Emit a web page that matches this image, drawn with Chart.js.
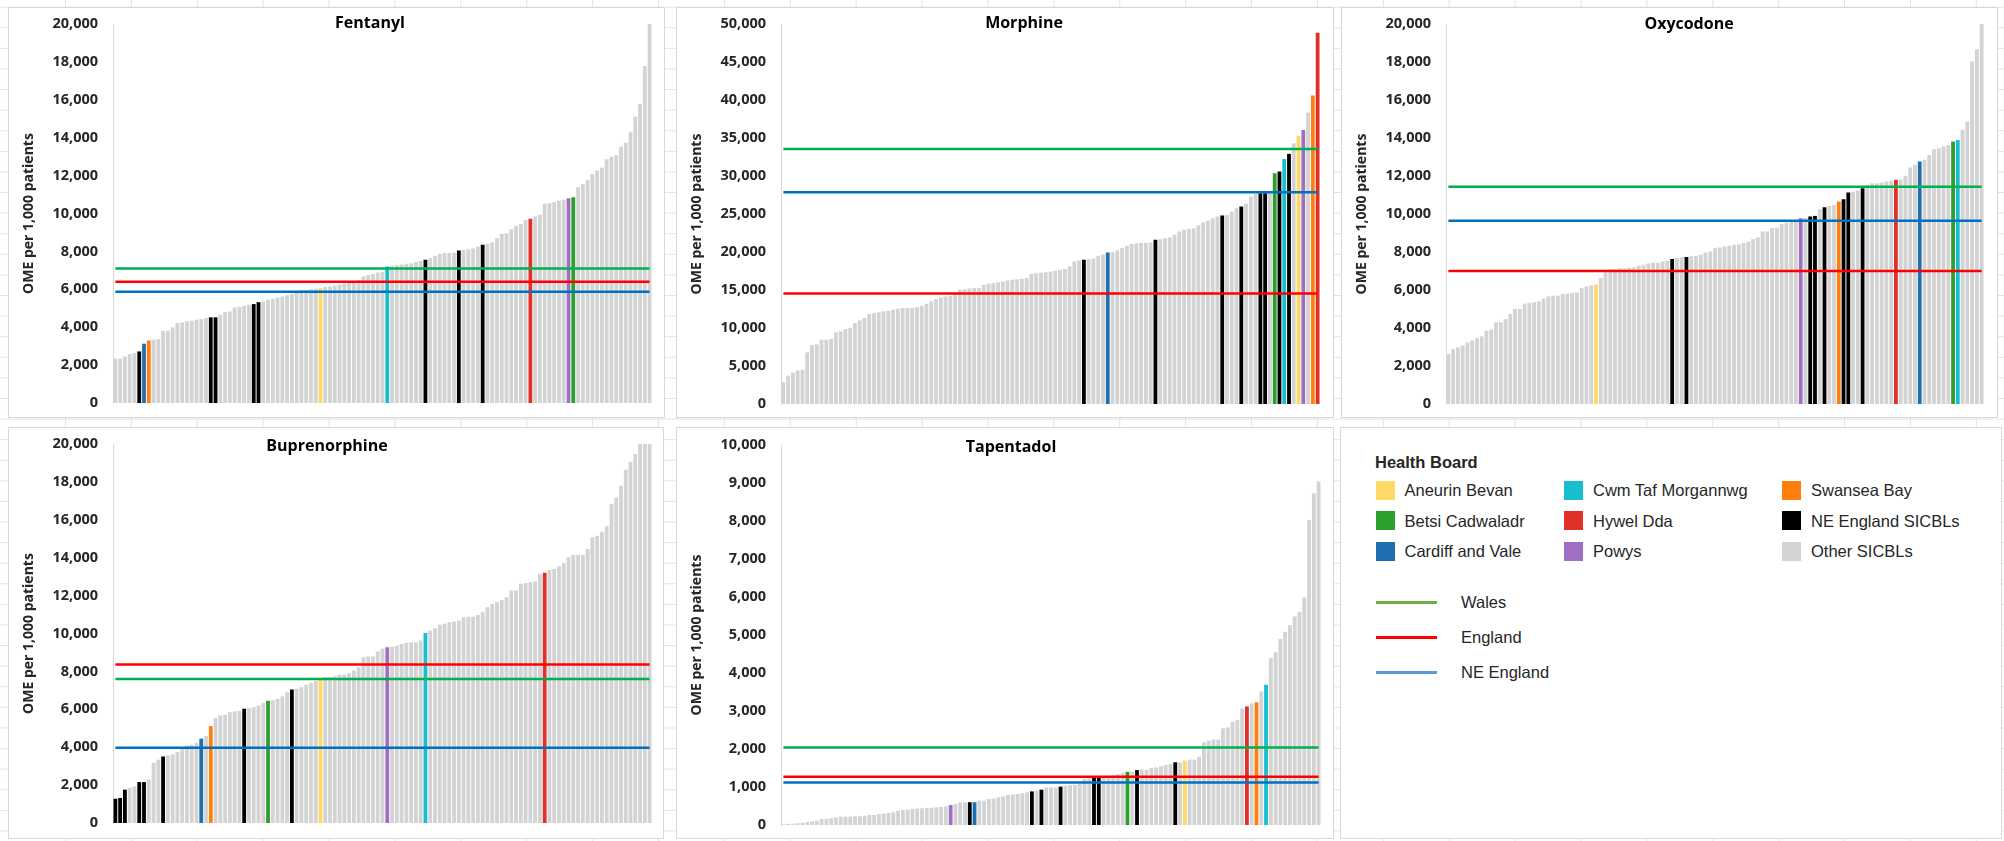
<!DOCTYPE html>
<html>
<head>
<meta charset="utf-8">
<script src="https://cdn.jsdelivr.net/npm/chart.js@4.4.1/dist/chart.umd.min.js"></script>
<style>
  html, body { margin: 0; padding: 0; }
  body {
    width: 2004px; height: 841px; overflow: hidden; position: relative;
    background-color: #fff;
    background-image: linear-gradient(to right, #e3e3e3 1px, transparent 1px),
                      linear-gradient(to bottom, #e3e3e3 1px, transparent 1px);
    background-size: 65.9px 20.6px;
    background-position: 65px 6.7px;
  }
  .panel { position: absolute; box-sizing: border-box; border: 1px solid #d9d9d9; background: #fff; }
  .inner { position: relative; width: 100%; height: 100%; }
  .lg { position: absolute; font-family: "Liberation Sans", Arial, sans-serif; font-size: 16.5px; color: #262626; line-height: 20px; white-space: nowrap; }
  .sw { position: absolute; width: 19px; height: 19px; }
  .ln { position: absolute; height: 3px; }
</style>
</head>
<body>
<script>
// Welsh health boards, in legend order
const boardNames = ['Aneurin Bevan', 'Betsi Cadwaladr', 'Cardiff and Vale', 'Cwm Taf Morgannwg', 'Hywel Dda', 'Powys', 'Swansea Bay'];
const boardColors = ['#ffd966', '#2ca02c', '#1f6fb0', '#17becf', '#e0302a', '#9f6fc4', '#ff7f0e'];
const neColor = '#000000';
const otherColor = '#d3d3d3';

// reference lines: Wales, England, NE England
const averageNames = ['Wales', 'England', 'NE England'];
const averageColors = ['#00b050', '#ff0000', '#0070c0'];
const averageLegendColors = ['#70ad47', '#ff0000', '#5b9bd5'];

// OME per 1,000 patients, sorted ascending (one bar per SICBL / health board)
const fentanylValues = [
  2340, 2340, 2460, 2580, 2640, 2720, 3130, 3300, 3340, 3370,
  3810, 3810, 3990, 4220, 4250, 4310, 4340, 4390, 4430, 4480,
  4520, 4520, 4660, 4800, 4830, 5040, 5080, 5130, 5180, 5220,
  5320, 5360, 5450, 5500, 5570, 5620, 5690, 5760, 5830, 5970,
  5970, 6010, 6030, 6060, 6120, 6150, 6190, 6240, 6290, 6330,
  6410, 6500, 6680, 6750, 6800, 6890, 6920, 7200, 7240, 7280,
  7310, 7350, 7380, 7450, 7490, 7560, 7640, 7770, 7870, 7910,
  7910, 7940, 8050, 8080, 8120, 8150, 8260, 8350, 8400, 8470,
  8700, 8930, 8960, 9170, 9350, 9440, 9660, 9720, 9840, 9930,
  10510, 10540, 10610, 10680, 10720, 10810, 10860, 11390, 11540, 11750,
  12090, 12260, 12420, 12860, 13000, 13070, 13530, 13740, 14320, 15110,
  15780, 17780, 20000
];
const fentanylWalesBars = [43, 96, 6, 57, 87, 95, 7];
const fentanylNEBars = [5, 20, 21, 29, 30, 65, 72, 77];
const fentanylAverages = [7100, 6400, 5870];

const morphineValues = [
  2850, 3730, 4160, 4430, 4510, 6790, 7760, 7840, 8460, 8460,
  8550, 9420, 9550, 9860, 9990, 10650, 11000, 11310, 11830, 11960,
  12050, 12180, 12270, 12400, 12530, 12620, 12620, 12620, 12750, 12930,
  13190, 13500, 13800, 14020, 14150, 14240, 14500, 15030, 15120, 15210,
  15250, 15250, 15690, 15820, 15910, 16000, 16100, 16250, 16350, 16420,
  16480, 16560, 17130, 17220, 17270, 17350, 17440, 17530, 17660, 17750,
  18100, 18760, 18890, 18970, 19060, 19150, 19500, 19680, 19940, 19980,
  20200, 20510, 20820, 21080, 21120, 21170, 21170, 21250, 21600, 21690,
  21820, 21950, 22260, 22700, 22920, 23010, 23140, 23530, 23880, 24150,
  24450, 24670, 24800, 24890, 25330, 25770, 25990, 26340, 27300, 27650,
  27740, 27740, 27960, 30370, 30590, 32250, 32910, 34310, 35280, 36060,
  38340, 40580, 48860
];
const morphineWalesBars = [108, 103, 68, 105, 112, 109, 111];
const morphineNEBars = [63, 78, 92, 96, 100, 101, 104, 106];
const morphineAverages = [33550, 14550, 27850];

const oxycodoneValues = [
  2630, 2890, 2980, 3070, 3240, 3350, 3470, 3560, 3860, 3910,
  4300, 4300, 4470, 4750, 5000, 5000, 5280, 5310, 5350, 5400,
  5540, 5660, 5700, 5700, 5800, 5800, 5840, 5870, 6100, 6190,
  6240, 6280, 6630, 6930, 7100, 7100, 7140, 7150, 7190, 7190,
  7280, 7330, 7400, 7430, 7430, 7500, 7540, 7630, 7680, 7730,
  7740, 7770, 7800, 7850, 7980, 8030, 8200, 8240, 8290, 8330,
  8380, 8410, 8470, 8550, 8680, 8780, 9080, 9080, 9260, 9270,
  9480, 9550, 9610, 9660, 9780, 9790, 9870, 9900, 10250, 10360,
  10430, 10480, 10660, 10780, 11130, 11180, 11240, 11360, 11540, 11620,
  11620, 11660, 11710, 11750, 11800, 11830, 12010, 12450, 12590, 12760,
  12850, 13110, 13410, 13460, 13550, 13620, 13810, 13900, 14430, 14870,
  18020, 18670, 20000
];
const oxycodoneWalesBars = [31, 106, 99, 107, 94, 74, 82];
const oxycodoneNEBars = [47, 50, 76, 77, 79, 83, 84, 87];
const oxycodoneAverages = [11430, 7000, 9640];

const buprenorphineValues = [
  1280, 1320, 1760, 1850, 1930, 2160, 2160, 2300, 3180, 3340,
  3510, 3570, 3620, 3740, 4010, 4090, 4130, 4230, 4450, 4590,
  5110, 5550, 5680, 5710, 5850, 5890, 5920, 6030, 6060, 6110,
  6200, 6330, 6450, 6470, 6550, 6680, 6900, 7050, 7080, 7170,
  7290, 7400, 7500, 7610, 7700, 7700, 7750, 7820, 7840, 7920,
  8050, 8220, 8750, 8790, 8790, 9050, 9190, 9280, 9310, 9370,
  9450, 9510, 9540, 9540, 9630, 10030, 10160, 10280, 10460, 10510,
  10600, 10630, 10680, 10860, 10890, 10890, 10980, 11120, 11390, 11560,
  11650, 11770, 11910, 12270, 12270, 12620, 12670, 12700, 12740, 13150,
  13200, 13350, 13410, 13550, 13720, 14020, 14140, 14140, 14140, 14460,
  15080, 15160, 15370, 15660, 16830, 17180, 17800, 18640, 19060, 19470,
  20000, 20000, 20000
];
const buprenorphineWalesBars = [43, 32, 18, 65, 90, 57, 20];
const buprenorphineNEBars = [0, 1, 2, 5, 6, 10, 27, 37];
const buprenorphineAverages = [7600, 8360, 3970];

const tapentadolValues = [
  20, 30, 35, 45, 60, 80, 95, 115, 160, 160,
  175, 200, 220, 220, 220, 230, 230, 245, 265, 270,
  290, 300, 315, 335, 375, 395, 405, 420, 430, 440,
  450, 455, 465, 475, 490, 525, 555, 595, 595, 600,
  600, 640, 640, 685, 700, 730, 755, 790, 800, 815,
  835, 860, 885, 905, 930, 990, 990, 990, 1010, 1035,
  1050, 1060, 1080, 1210, 1230, 1255, 1255, 1280, 1300, 1315,
  1340, 1370, 1400, 1405, 1445, 1455, 1455, 1500, 1515, 1545,
  1580, 1605, 1650, 1650, 1695, 1720, 1720, 1800, 2175, 2220,
  2245, 2245, 2545, 2570, 2720, 2765, 3070, 3120, 3200, 3230,
  3510, 3690, 4385, 4545, 4895, 5085, 5260, 5490, 5615, 5990,
  8025, 8725, 9040
];
const tapentadolWalesBars = [84, 72, 40, 101, 97, 35, 99];
const tapentadolNEBars = [39, 52, 54, 58, 65, 66, 74, 82];
const tapentadolAverages = [2040, 1270, 1120];

const axisMax = [20000, 50000, 20000, 20000, 10000];
const axisStep = [2000, 5000, 2000, 2000, 1000];

const panels = [
  {title: 'Fentanyl', values: fentanylValues, wales: fentanylWalesBars, ne: fentanylNEBars, avg: fentanylAverages,
   left: 8, top: 7, width: 657, height: 411, pad: {top: 16, right: 12, bottom: 14}, titleX: 361, titleY: 20},
  {title: 'Morphine', values: morphineValues, wales: morphineWalesBars, ne: morphineNEBars, avg: morphineAverages,
   left: 676, top: 7, width: 658, height: 411, pad: {top: 16, right: 13, bottom: 13}, titleX: 347, titleY: 20},
  {title: 'Oxycodone', values: oxycodoneValues, wales: oxycodoneWalesBars, ne: oxycodoneNEBars, avg: oxycodoneAverages,
   left: 1341, top: 7, width: 657, height: 411, pad: {top: 16, right: 13, bottom: 13}, titleX: 347, titleY: 21},
  {title: 'Buprenorphine', values: buprenorphineValues, wales: buprenorphineWalesBars, ne: buprenorphineNEBars, avg: buprenorphineAverages,
   left: 8, top: 427, width: 656, height: 412, pad: {top: 16, right: 11, bottom: 15}, titleX: 318, titleY: 23},
  {title: 'Tapentadol', values: tapentadolValues, wales: tapentadolWalesBars, ne: tapentadolNEBars, avg: tapentadolAverages,
   left: 676, top: 427, width: 658, height: 412, pad: {top: 17, right: 12, bottom: 13}, titleX: 334, titleY: 24}
];

// title drawn inside the plot like the Excel chart titles
const panelTitle = {
  id: 'panelTitle',
  afterDraw(chart, args, opts) {
    const ctx = chart.ctx;
    ctx.save();
    ctx.font = 'bold 16px "Open Sans"';
    ctx.fillStyle = '#000';
    ctx.textAlign = 'center';
    ctx.textBaseline = 'alphabetic';
    ctx.fillText(opts.text, opts.x, opts.y);
    ctx.restore();
  }
};

function barColors(values, walesBars, neBars) {
  const colors = values.map(() => otherColor);
  neBars.forEach(i => { colors[i] = neColor; });
  walesBars.forEach((i, b) => { colors[i] = boardColors[b]; });
  return colors;
}

const tickFont = {family: 'Open Sans', weight: 'bold', size: 14.5};

panels.forEach((p, n) => {
  const box = document.createElement('div');
  box.className = 'panel';
  box.style.left = p.left + 'px';
  box.style.top = p.top + 'px';
  box.style.width = p.width + 'px';
  box.style.height = p.height + 'px';
  const inner = document.createElement('div');
  inner.className = 'inner';
  const canvas = document.createElement('canvas');
  inner.appendChild(canvas);
  box.appendChild(inner);
  document.body.appendChild(box);

  const categories = p.values.map((v, i) => String(i + 1));

  const lineSets = p.avg.map((v, k) => ({
    type: 'line',
    label: averageNames[k],
    data: categories.map(() => v),
    borderColor: averageColors[k],
    borderWidth: 2.5,
    pointRadius: 0,
    fill: false,
    order: k
  }));

  new Chart(canvas, {
    type: 'bar',
    data: {
      labels: categories,
      datasets: [{
        type: 'bar',
        label: p.title,
        data: p.values,
        backgroundColor: barColors(p.values, p.wales, p.ne),
        categoryPercentage: 1.0,
        barPercentage: 0.8,
        order: 5
      }].concat(lineSets)
    },
    options: {
      responsive: true,
      maintainAspectRatio: false,
      animation: false,
      layout: {padding: {left: 0, top: p.pad.top, right: p.pad.right, bottom: p.pad.bottom}},
      plugins: {
        legend: {display: false},
        tooltip: {enabled: false},
        panelTitle: {text: p.title, x: p.titleX, y: p.titleY}
      },
      scales: {
        x: {display: false},
        y: {
          min: 0,
          max: axisMax[n],
          ticks: {
            stepSize: axisStep[n],
            padding: 0,
            color: '#262626',
            font: tickFont,
            callback: v => v.toLocaleString('en-US')
          },
          // tick marks are hidden but their length keeps the labels off the axis
          grid: {display: false, drawTicks: true, tickLength: 15},
          border: {display: true, color: '#d9d9d9', width: 1},
          title: {
            display: true,
            text: 'OME per 1,000 patients',
            color: '#262626',
            font: {family: 'Open Sans', weight: 'bold', size: 14},
            padding: {top: 12, bottom: 0}
          },
          afterFit: s => { s.width = 104; }
        }
      }
    },
    plugins: [panelTitle]
  });
});

// legend panel (plain HTML)
const legendBox = document.createElement('div');
legendBox.className = 'panel';
legendBox.style.left = '1340px';
legendBox.style.top = '427px';
legendBox.style.width = '662px';
legendBox.style.height = '412px';
document.body.appendChild(legendBox);

function addText(text, x, y, bold) {
  const d = document.createElement('div');
  d.className = 'lg';
  d.textContent = text;
  d.style.left = x + 'px';
  d.style.top = (y - 10) + 'px';
  if (bold) d.style.fontWeight = 'bold';
  document.body.appendChild(d);
}

addText('Health Board', 1375, 462, true);

const legendNames = boardNames.concat(['NE England SICBLs', 'Other SICBLs']);
const legendColors = boardColors.concat([neColor, otherColor]);
const colX = [1375.5, 1564, 1782];
const rowY = [490, 520.5, 551];
legendNames.forEach((name, k) => {
  const c = Math.floor(k / 3), r = k % 3;
  const sw = document.createElement('div');
  sw.className = 'sw';
  sw.style.left = colX[c] + 'px';
  sw.style.top = (rowY[r] - 9.5) + 'px';
  sw.style.background = legendColors[k];
  document.body.appendChild(sw);
  addText(name, colX[c] + 29, rowY[r]);
});

const lineY = [602, 637, 672];
averageNames.forEach((name, k) => {
  const ln = document.createElement('div');
  ln.className = 'ln';
  ln.style.left = '1375.5px';
  ln.style.width = '61px';
  ln.style.top = (lineY[k] - 1.5) + 'px';
  ln.style.background = averageLegendColors[k];
  document.body.appendChild(ln);
  addText(name, 1461, lineY[k]);
});
</script>
</body>
</html>
